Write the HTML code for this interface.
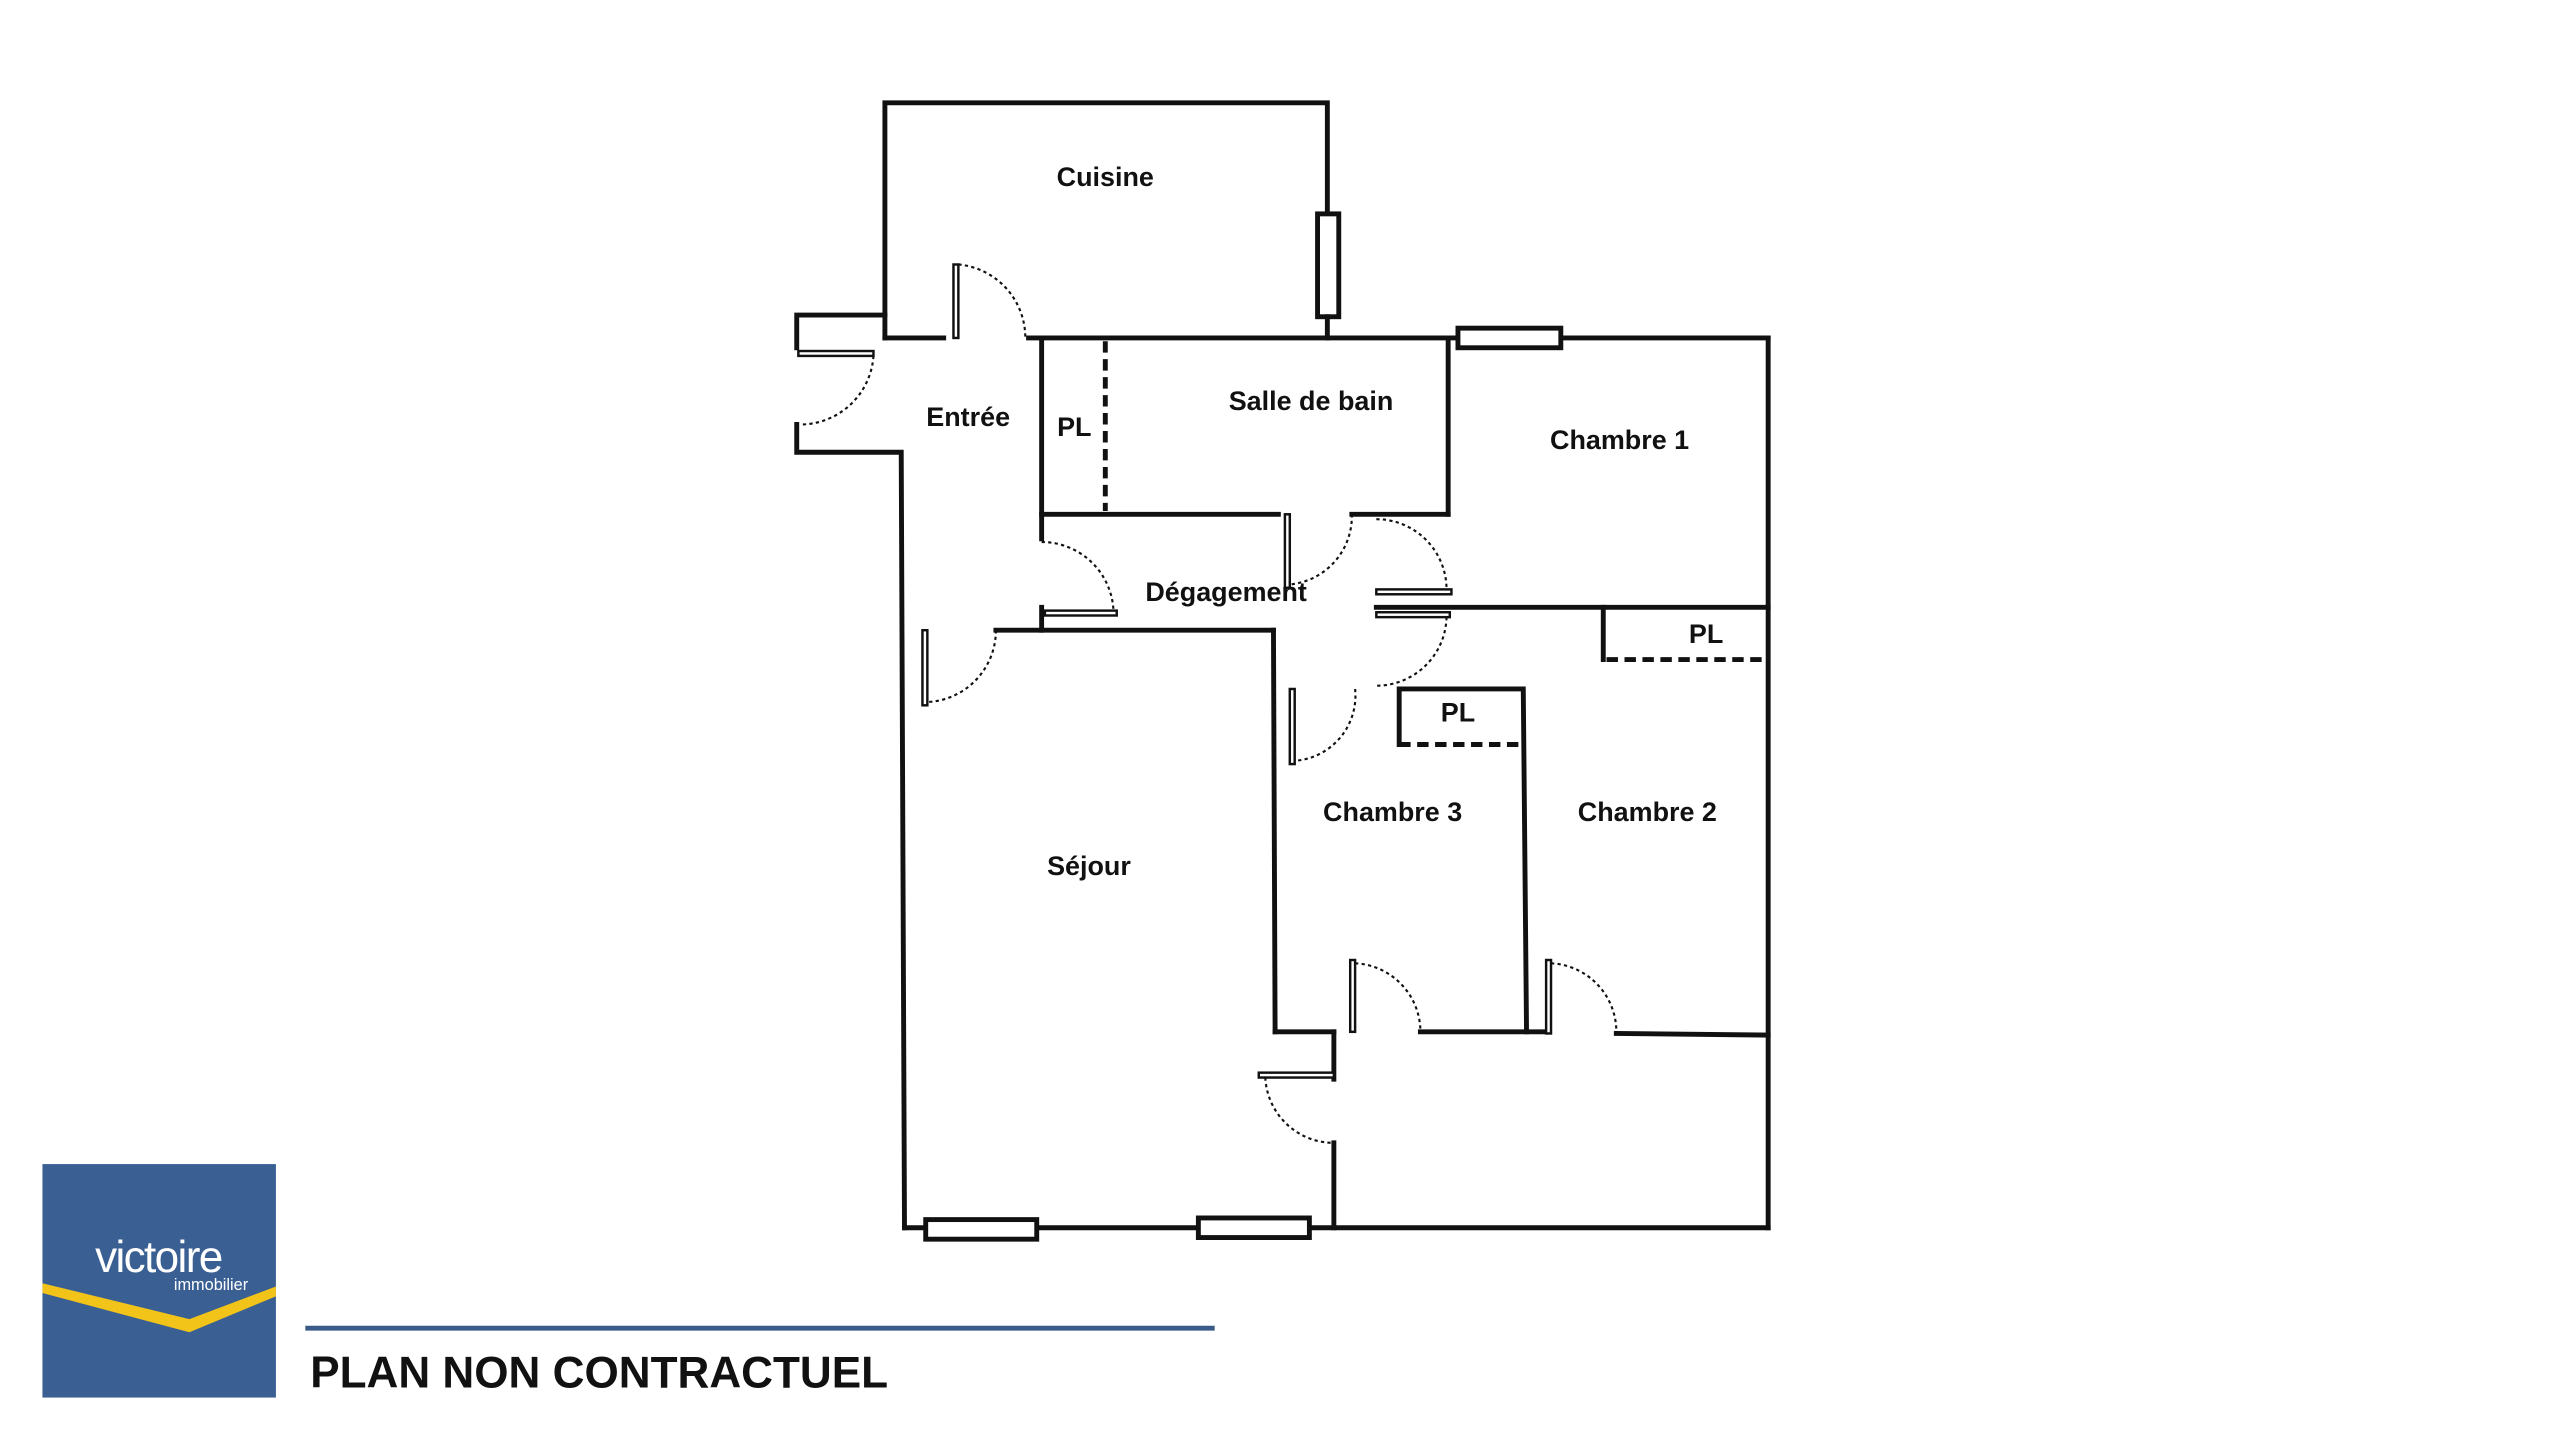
<!DOCTYPE html>
<html><head><meta charset="utf-8"><style>
html,body{margin:0;padding:0;background:#fff;}
svg{display:block;}
text{font-family:"Liberation Sans",sans-serif;font-weight:bold;fill:#111;}
</style></head><body>
<svg width="2560" height="1440" viewBox="0 0 1568 882" xmlns="http://www.w3.org/2000/svg">
<rect width="1568" height="882" fill="#fff"/>
<g stroke="#111" stroke-width="3" fill="none" stroke-linecap="square">
<!-- Cuisine -->
<polyline points="542,207 542,63 813,63 813,130"/>
<rect x="807" y="131" width="13" height="63" fill="#fff"/>
<line x1="813" y1="194" x2="813" y2="207"/>
<line x1="542" y1="207" x2="578" y2="207"/>
<line x1="630" y1="207" x2="887" y2="207"/>
<!-- Entree -->
<polyline points="542,193 488,193 488,213"/>
<polyline points="488,260 488,277 552,277 554,752"/>
<!-- bottom -->
<line x1="554" y1="752" x2="1083" y2="752"/>
<rect x="567" y="747" width="68" height="12" fill="#fff"/>
<rect x="734" y="746" width="68" height="12" fill="#fff"/>
<!-- right / top right -->
<line x1="1083" y1="207" x2="1083" y2="752"/>
<line x1="887" y1="207" x2="1083" y2="207"/>
<rect x="893" y="201" width="63" height="12" fill="#fff"/>
<!-- bathroom -->
<line x1="638" y1="207" x2="638" y2="330"/>
<line x1="638" y1="315" x2="783" y2="315"/>
<line x1="828" y1="315" x2="887" y2="315"/>
<line x1="887" y1="207" x2="887" y2="315"/>
<!-- chambre1 bottom -->
<line x1="843" y1="372" x2="1083" y2="372"/>
<line x1="982" y1="372" x2="982" y2="404"/>
<!-- degagement bottom -->
<line x1="610" y1="386" x2="780" y2="386"/>
<line x1="780" y1="386" x2="781" y2="632"/>
<line x1="638" y1="372" x2="638" y2="386"/>
<!-- ch3 PL -->
<polyline points="857,456 857,422 933,422 935,632"/>
<!-- ch3/ch2 bottom -->
<line x1="781" y1="632" x2="817" y2="632"/>
<line x1="870" y1="632" x2="945" y2="632"/>
<line x1="990" y1="633" x2="1083" y2="634"/>
<line x1="817" y1="632" x2="817" y2="661"/>
<line x1="817" y1="700" x2="817" y2="752"/>
</g>
<!-- dashed PL -->
<g stroke="#111" stroke-width="3" stroke-dasharray="7,4" fill="none">
<line x1="677" y1="209" x2="677" y2="313"/>
<line x1="984" y1="404" x2="1083" y2="404"/>
<line x1="857" y1="456" x2="933" y2="456"/>
</g>
<!-- door leaves -->
<g stroke="#111" stroke-width="1.5" fill="#fff">
<rect x="584" y="162" width="3" height="45"/>
<rect x="489" y="215" width="46" height="3"/>
<rect x="640" y="374" width="44" height="3"/>
<rect x="565" y="386" width="3" height="46"/>
<rect x="787" y="315" width="3" height="45"/>
<rect x="843" y="361" width="46" height="3"/>
<rect x="843" y="375" width="45" height="3"/>
<rect x="790" y="422" width="3" height="46"/>
<rect x="827" y="588" width="3" height="44"/>
<rect x="947" y="588" width="3" height="45"/>
<rect x="771" y="657" width="46" height="3"/>
</g>
<!-- arcs -->
<g stroke="#111" stroke-width="1.3" stroke-dasharray="2,2" fill="none">
<path d="M587,162 A45,45 0 0 1 628,207"/>
<path d="M535,218 A45,45 0 0 1 490,260"/>
<path d="M638,332 A44,44 0 0 1 682,374"/>
<path d="M610,386 A44,44 0 0 1 568,430"/>
<path d="M828,315 A42,42 0 0 1 790,358"/>
<path d="M843,318 A43,43 0 0 1 886,361"/>
<path d="M886,378 A43,43 0 0 1 843,420"/>
<path d="M830,422 A40,40 0 0 1 793,466"/>
<path d="M830,590 A42,42 0 0 1 870,632"/>
<path d="M950,590 A42,42 0 0 1 990,633"/>
<path d="M775,660 A42,42 0 0 0 817,700"/>
</g>
<!-- labels -->
<g font-size="16.5" text-anchor="middle">
<text x="677" y="114">Cuisine</text>
<text x="593" y="261">Entrée</text>
<text x="658" y="267">PL</text>
<text x="803" y="251">Salle de bain</text>
<text x="992" y="275">Chambre 1</text>
<text x="751" y="368">Dégagement</text>
<text x="1045" y="394">PL</text>
<text x="893" y="442">PL</text>
<text x="853" y="503">Chambre 3</text>
<text x="1009" y="503">Chambre 2</text>
<text x="667" y="536">Séjour</text>
</g>
<!-- logo -->
<rect x="26" y="713" width="143" height="143" fill="#3a5f93"/>
<text x="97" y="779" font-size="27" text-anchor="middle" style="fill:#fff;font-weight:normal" letter-spacing="-1">victoire</text>
<text x="152" y="790" font-size="10" text-anchor="end" style="fill:#fff;font-weight:normal">immobilier</text>
<polygon points="26,786 116,808 169,788 169,794 116,816 26,792" fill="#f2c318"/>
<line x1="187" y1="813.5" x2="744" y2="813.5" stroke="#3a5a8a" stroke-width="3"/>
<text x="190" y="850" font-size="27">PLAN NON CONTRACTUEL</text>
</svg>
</body></html>
